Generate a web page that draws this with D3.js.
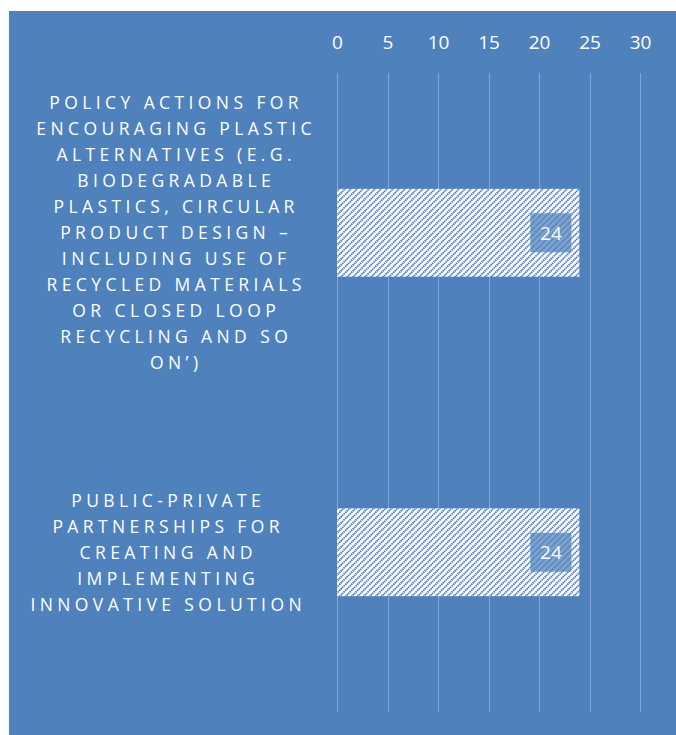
<!DOCTYPE html>
<html><head><meta charset="utf-8">
<script src="https://cdn.jsdelivr.net/npm/d3@7"></script>
<style>html,body{margin:0;padding:0;background:#fff;}svg{display:block;}</style>
</head><body>
<svg id="c" width="676" height="735"></svg>
<script>
const categories = [
  "POLICY ACTIONS FOR|ENCOURAGING PLASTIC|ALTERNATIVES (E.G.|BIODEGRADABLE|PLASTICS, CIRCULAR|PRODUCT DESIGN –|INCLUDING USE OF|RECYCLED MATERIALS|OR CLOSED LOOP|RECYCLING AND SO|ON’)",
  "PUBLIC-PRIVATE|PARTNERSHIPS FOR|CREATING AND|IMPLEMENTING|INNOVATIVE SOLUTION"
];
const values = [24, 24];
const ticks = [0, 5, 10, 15, 20, 25, 30];

const svg = d3.select("#c");
const blue = "#4F81BD";
svg.append("rect").attr("x", 9).attr("y", 11).attr("width", 667).attr("height", 724).attr("fill", blue);

const defs = svg.append("defs");
const pat = defs.append("pattern").attr("id", "hatch").attr("patternUnits", "userSpaceOnUse")
  .attr("width", 6).attr("height", 6);
pat.append("rect").attr("width", 6).attr("height", 6).attr("fill", "#fff");
pat.append("path").attr("d", "M-1.5,1.5 L1.5,-1.5 M0,6 L6,0 M4.5,7.5 L7.5,4.5")
  .attr("stroke", blue).attr("stroke-width", 1.9).attr("stroke-dasharray", "1.6,0.6");

const x = d3.scaleLinear().domain([0, 30]).range([337, 640]);
const y = d3.scaleBand().domain(categories).range([73, 712]).padding(0);

// gridlines
svg.append("g").selectAll("line").data(ticks).join("line")
  .attr("x1", d => Math.round(x(d)) + 0.5).attr("x2", d => Math.round(x(d)) + 0.5)
  .attr("y1", 73).attr("y2", 712)
  .attr("stroke", "rgba(255,255,255,0.3)").attr("stroke-width", 1);

// tick labels
const axis = d3.axisTop(x).tickValues(ticks).tickSize(0).tickPadding(0);
const ag = svg.append("g").attr("transform", "translate(0,49)").call(axis);
ag.select(".domain").remove();
ag.selectAll("text").attr("fill", "#fff").attr("font-family", "Open Sans, sans-serif")
  .attr("font-size", 19).attr("dy", 0);

// bars
const bh = y.bandwidth() * 0.275;
svg.append("g").selectAll("rect").data(values).join("rect")
  .attr("x", x(0)).attr("y", (d, i) => y(categories[i]) + y.bandwidth() / 2 - bh / 2)
  .attr("width", d => x(d) - x(0)).attr("height", bh).attr("fill", "url(#hatch)");

// data labels
const lg = svg.append("g").selectAll("g").data(values).join("g")
  .attr("transform", (d, i) => `translate(${x(d) - 28.5},${y(categories[i]) + y.bandwidth() / 2})`);
lg.append("rect").attr("x", -20.5).attr("y", -19.5).attr("width", 41).attr("height", 39)
  .attr("fill", blue).attr("fill-opacity", 0.72);
lg.append("text").text(d => d).attr("text-anchor", "middle").attr("dy", "0.36em")
  .attr("fill", "#fff").attr("font-family", "Open Sans, sans-serif").attr("font-size", 19);

// category labels
const centers = [174, 166];
const cg = svg.append("g").selectAll("text").data(categories).join("text")
  .attr("fill", "#fff").attr("font-family", "Open Sans, sans-serif").attr("font-size", 17.5)
  .attr("letter-spacing", "4.4px").attr("text-anchor", "middle");
cg.each(function (d, i) {
  const lines = d.split("|");
  const cy = y(d) + y.bandwidth() / 2;
  const lh = 26;
  const t = d3.select(this);
  lines.forEach((l, j) => {
    t.append("tspan").attr("x", centers[i] + 2.2).attr("y", cy + (j - (lines.length - 1) / 2) * lh)
      .attr("dy", "0.36em").text(l);
  });
});
</script>
</body></html>
